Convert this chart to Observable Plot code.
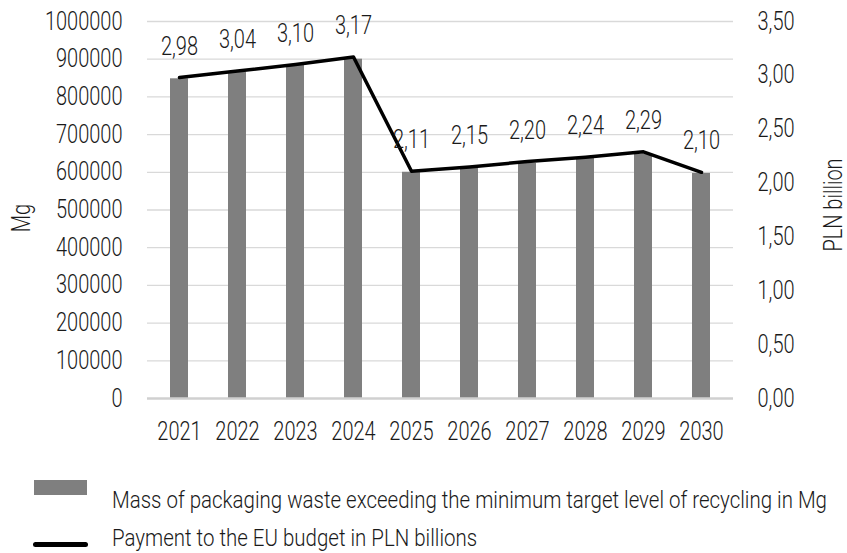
<!DOCTYPE html>
<html>
<head>
<meta charset="utf-8">
<script src="https://cdn.jsdelivr.net/npm/d3@7"></script>
<script src="https://cdn.jsdelivr.net/npm/@observablehq/plot@0.6"></script>
<style>
  html, body { margin: 0; padding: 0; background: #fff; }
  #wrap { position: relative; width: 847px; height: 553px; overflow: hidden;
          font-family: 'Roboto', sans-serif; font-weight: 300; color: #1a1a1a; }
  .leg { position: absolute; font-size: 23px; line-height: 1.1; white-space: nowrap;
         transform: scaleX(0.89); transform-origin: 0 50%; }
  .sw { position: absolute; }
</style>
</head>
<body>
<div id="wrap"></div>
<script>
const years = [2021, 2022, 2023, 2024, 2025, 2026, 2027, 2028, 2029, 2030];
const massMg = [848000, 866000, 884000, 900000, 600000, 611000, 624000, 637000, 648000, 597000];
const paymentBn = [2.98, 3.04, 3.10, 3.17, 2.11, 2.15, 2.20, 2.24, 2.29, 2.10];
const leftTicks = [0, 100000, 200000, 300000, 400000, 500000, 600000, 700000, 800000, 900000, 1000000];
const rightTicks = [0, 0.5, 1.0, 1.5, 2.0, 2.5, 3.0, 3.5];
const leftLabel = "Mg";
const rightLabel = "PLN billion";
const barLegend = "Mass of packaging waste exceeding the minimum target level of recycling in Mg";
const lineLegend = "Payment to the EU budget in PLN billions";

const k = 1000000 / 3.5; // right axis -> left axis units
const comma = v => v.toFixed(2).replace(".", ",");

const rows = years.map((year, i) => ({year, mass: massMg[i], pay: paymentBn[i], payY: paymentBn[i] * k}));

const chart = Plot.plot({
  width: 847,
  height: 460,
  marginLeft: 147,
  marginRight: 114,
  marginTop: 21,
  marginBottom: 62,
  style: {fontFamily: "'Roboto', sans-serif", fontWeight: 300, fontSize: "25px", color: "#1a1a1a", background: "#fff"},
  x: {type: "band", domain: years, paddingInner: 0.69, paddingOuter: 0.345},
  y: {domain: [0, 1000000]},
  marks: [
    Plot.ruleY(leftTicks.slice(1), {stroke: "#d9d9d9", strokeWidth: 1.3}),
    Plot.barY(rows, {x: "year", y: "mass", fill: "#7f7f7f"}),
    Plot.ruleY([0], {stroke: "#d0d0d0", strokeWidth: 2.5}),
    Plot.line(rows, {x: "year", y: "payY", stroke: "#000", strokeWidth: 3.5, strokeLinejoin: "round", strokeLinecap: "round"}),
    Plot.text(rows, {x: "year", y: "payY", text: d => comma(d.pay), dy: -31, fill: "#1a1a1a"}),
    Plot.axisY(leftTicks, {anchor: "left", tickSize: 0, tickPadding: 25, tickFormat: d => String(d), label: null}),
    Plot.axisY(rightTicks.map(v => v * k), {anchor: "right", tickSize: 0, tickPadding: 24, tickFormat: d => comma(d / k), label: null}),
    Plot.axisX({tickSize: 0, tickPadding: 24, tickFormat: d => String(d), label: null}),
    Plot.text([leftLabel], {frameAnchor: "left", textAnchor: "middle", dx: -126, dy: 8, rotate: -90, fill: "#1a1a1a"}),
    Plot.text([rightLabel], {frameAnchor: "right", textAnchor: "middle", dx: 100, dy: -5, rotate: -90, fill: "#1a1a1a"})
  ]
});

const wrap = document.getElementById("wrap");
wrap.appendChild(chart);

// condense glyphs horizontally (reference uses a condensed face), scaling about each text's anchor
chart.querySelectorAll("text").forEach(t => {
  const tr = t.getAttribute("transform") || "";
  const xa = t.getAttribute("x");
  const x = xa && /^-?[\d.]+$/.test(xa.trim()) ? parseFloat(xa) : 0;
  if (xa && x !== 0) t.setAttribute("x", 0);
  t.setAttribute("transform", `${tr} translate(${x},0) scale(0.8,1)`);
});

function add(html, css, cls) {
  const el = document.createElement("div");
  el.className = cls;
  if (html) el.textContent = html;
  Object.assign(el.style, css);
  wrap.appendChild(el);
}
add(null, {left: "34px", top: "480px", width: "53px", height: "15px", background: "#7f7f7f"}, "sw");
add(barLegend, {left: "112px", top: "488px"}, "leg");
add(null, {left: "33px", top: "542px", width: "55px", height: "5px", background: "#000", borderRadius: "3px"}, "sw");
add(lineLegend, {left: "112px", top: "526px"}, "leg");
</script>
</body>
</html>
